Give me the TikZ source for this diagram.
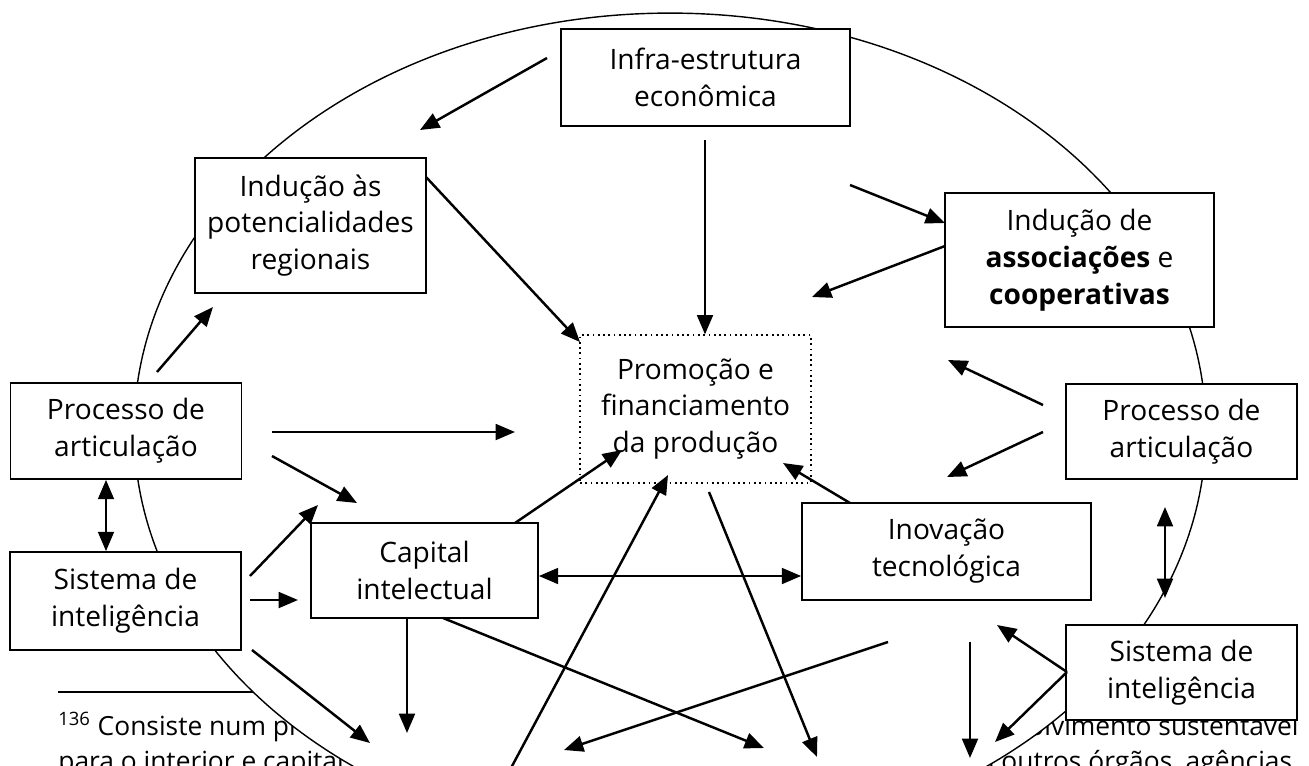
\documentclass[tikz,border=0pt]{standalone}
\usepackage{fontspec}
\setmainfont{Open Sans}
\usetikzlibrary{arrows.meta}

\tikzset{
  caixa/.style={draw, fill=white, line width=1pt, align=center, inner sep=0pt,
    minimum width=4.62cm, minimum height=1.92cm, font=\fontsize{16}{21}\selectfont},
  seta/.style={-{Triangle[length=11pt,width=9pt]}, line width=1.4pt},
  setas/.style={{Triangle[length=11pt,width=9pt]}-{Triangle[length=11pt,width=9pt]}, line width=1.4pt},
  nota/.style={inner sep=0pt, font=\fontsize{15}{28}\selectfont},
}

\begin{document}
\begin{tikzpicture}[x=0.02cm, y=-0.02cm]
  \clip (0,0) rectangle (1309,765);

  % texto da pagina por tras
  \node[nota, anchor=base west] (n1) at (58,735) {\textsuperscript{136} Consiste num projeto};
  \node[nota, anchor=base west] (n2) at (58,770) {para o interior e capital};
  \node[nota, anchor=base east] (n3) at (1299,735) {desenvolvimento sustentável};
  \node[nota, anchor=base east] (n4) at (1299,770) {em outros órgãos, agências,};
  \draw[line width=0.8pt] (58,692) -- (300,692);

  \draw[fill=white, line width=0.8pt] (670,430) ellipse [x radius=10.72cm, y radius=8.34cm];

  % caixas
  \node[caixa, minimum width=5.78cm, minimum height=1.94cm] (infra) at (705.5,77.5) {Infra-estrutura\\econômica};
  \node[caixa, minimum height=2.70cm] (indas) at (310.5,225.5) {Indução às\\potencialidades\\regionais};
  \node[caixa, minimum width=5.38cm, minimum height=2.68cm] (indassoc) at (1079.5,260) {Indução de\\\textbf{associações} e\\\textbf{cooperativas}};
  \node[caixa, dotted, line width=0.7pt, minimum height=2.96cm] (promo) at (695.5,409) {Promoção e\\financiamento\\da produção};
  \node[caixa] (procl) at (126,431) {Processo de\\articulação};
  \node[caixa, minimum height=1.96cm] (sistl) at (125.5,601) {Sistema de\\inteligência};
  \node[caixa, minimum width=4.54cm, minimum height=1.90cm] (capital) at (424.5,570.5) {Capital\\intelectual};
  \node[caixa, minimum width=5.78cm, minimum height=1.94cm] (inov) at (946.5,551.5) {Inovação\\tecnológica};
  \node[caixa, minimum height=1.90cm] (procr) at (1181.5,431.5) {Processo de\\articulação};
  \node[caixa, minimum height=1.90cm] (sistr) at (1181.5,672.5) {Sistema de\\inteligência};

  % pontas soltas
  \coordinate (c1) at (547,58);   \coordinate (c2) at (420,130);
  \coordinate (c3) at (705,140);
  \coordinate (c4) at (426,177);  \coordinate (c5) at (580,342);
  \coordinate (c6) at (157,372);  \coordinate (c7) at (213,307);
  \coordinate (c8) at (850,185);  \coordinate (c9) at (945,223);
  \coordinate (c10) at (945,246); \coordinate (c11) at (812,297);
  \coordinate (c12) at (1043,405); \coordinate (c13) at (948,360);
  \coordinate (c14) at (1043,432); \coordinate (c15) at (947,477);
  \coordinate (c16) at (272,432); \coordinate (c17) at (515,432);
  \coordinate (c18) at (272,456); \coordinate (c19) at (357,503);
  \coordinate (c20) at (250,576); \coordinate (c21) at (318,505);
  \coordinate (c22) at (250,600); \coordinate (c23) at (298,600);
  \coordinate (c24) at (515,523); \coordinate (c25) at (622,450);
  \coordinate (c26) at (0,576);
  \coordinate (c27) at (850,503); \coordinate (c28) at (783,463);
  \coordinate (c29) at (511,768); \coordinate (c30) at (668,475);
  \coordinate (c31) at (709,492); \coordinate (c32) at (817,757);
  \coordinate (c33) at (888,642); \coordinate (c34) at (564,750);
  \coordinate (c35) at (443,618); \coordinate (c36) at (764,748);
  \coordinate (c37) at (407,733);
  \coordinate (c38) at (252,650); \coordinate (c39) at (370,743);
  \coordinate (c40) at (970,642); \coordinate (c41) at (970,758);
  \coordinate (c42) at (1067,672); \coordinate (c43) at (997,625);
  \coordinate (c44) at (995,742);
  \coordinate (c45) at (1165,507); \coordinate (c46) at (1165,598);
  \coordinate (c47) at (106,0);

  % setas
  \draw[seta] (c1) -- (c2);
  \draw[seta] (c3) -- (c3 |- promo.north);
  \draw[seta] (c4) -- (c5);
  \draw[seta] (c6) -- (c7);
  \draw[seta] (c8) -- (c9);
  \draw[seta] (c10) -- (c11);
  \draw[seta] (c12) -- (c13);
  \draw[seta] (c14) -- (c15);
  \draw[seta] (c16) -- (c17);
  \draw[seta] (c18) -- (c19);
  \draw[seta] (c20) -- (c21);
  \draw[seta] (c22) -- (c23);
  \draw[seta] (c24) -- (c25);
  \draw[setas] (capital.east |- c26) -- (inov.west |- c26);
  \draw[seta] (c27) -- (c28);
  \draw[seta] (c29) -- (c30);
  \draw[seta] (c31) -- (c32);
  \draw[seta] (c33) -- (c34);
  \draw[seta] (c35) -- (c36);
  \draw[seta] (c37 |- capital.south) -- (c37);
  \draw[seta] (c38) -- (c39);
  \draw[seta] (c40) -- (c41);
  \draw[seta] (c42) -- (c43);
  \draw[seta] (c42) -- (c44);
  \draw[setas] (c47 |- procl.south) -- (c47 |- sistl.north);
  \draw[setas] (c45) -- (c46);
\end{tikzpicture}
\end{document}
